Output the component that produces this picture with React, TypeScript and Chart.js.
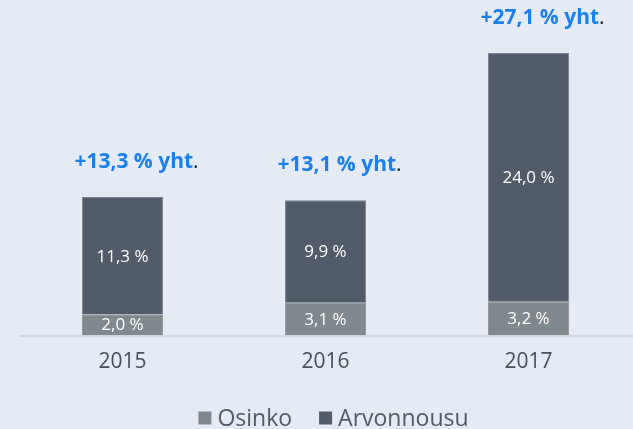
import React, { useEffect, useRef } from "react";
import { Chart, registerables } from "chart.js";

Chart.register(...registerables);

const categories = ["2015", "2016", "2017"];
const osinko = [2.0, 3.1, 3.2];
const arvonnousu = [11.3, 9.9, 24.0];
const totals = ["+13,3 % yht", "+13,1 % yht", "+27,1 % yht"];

const BG = "#e4ebf5";
const FONT = "'Open Sans', Lato, sans-serif";
const COLORS = ["#7f898e", "#525b6a"];
const BORDERS = ["#8c9599", "#7a8290"];

const fmt = (v: number) => v.toFixed(1).replace(".", ",") + " %";

const labelsPlugin = {
  id: "customLabels",
  beforeDraw(chart: any) {
    const { ctx, width, height } = chart;
    ctx.save();
    ctx.fillStyle = BG;
    ctx.fillRect(0, 0, width, height);
    ctx.restore();
  },
  afterDatasetsDraw(chart: any) {
    const { ctx, chartArea } = chart;
    ctx.save();
    // baseline
    ctx.strokeStyle = "#d3d8de";
    ctx.lineWidth = 2;
    ctx.beginPath();
    ctx.moveTo(chartArea.left - 2, chartArea.bottom + 1);
    ctx.lineTo(chart.width, chartArea.bottom + 1);
    ctx.stroke();

    // values inside bars
    ctx.font = `17px ${FONT}`;
    ctx.fillStyle = "#ffffff";
    ctx.textAlign = "center";
    ctx.textBaseline = "middle";
    chart.data.datasets.forEach((ds: any, di: number) => {
      const meta = chart.getDatasetMeta(di);
      meta.data.forEach((bar: any, i: number) => {
        const y = (bar.y + bar.base) / 2;
        ctx.fillText(fmt(ds.data[i]), bar.x, y + 1);
      });
    });

    // totals above bars
    const topMeta = chart.getDatasetMeta(1);
    topMeta.data.forEach((bar: any, i: number) => {
      const boldFont = `bold 21px ${FONT}`;
      ctx.font = boldFont;
      const main = totals[i];
      const w1 = ctx.measureText(main).width;
      ctx.font = `21px ${FONT}`;
      const w2 = ctx.measureText(".").width;
      const total = w1 + w2;
      const cx = bar.x + 14;
      const startX = cx - total / 2;
      const y = bar.y - 35;
      ctx.textAlign = "left";
      ctx.textBaseline = "middle";
      ctx.font = boldFont;
      ctx.fillStyle = "#1a7ff0";
      ctx.fillText(main, startX, y);
      ctx.font = `21px ${FONT}`;
      ctx.fillStyle = "#222222";
      ctx.fillText(".", startX + w1, y);
    });

    // custom legend
    const legendFont = `23px ${FONT}`;
    ctx.font = legendFont;
    const box = 13;
    const gap = 6;
    const spacing = 27;
    const items = chart.data.datasets.map((ds: any) => ({
      label: ds.label,
      color: ds.backgroundColor,
      w: ctx.measureText(ds.label).width,
    }));
    const totalW =
      items.reduce((s: number, it: any) => s + box + gap + it.w, 0) +
      spacing * (items.length - 1);
    let x = (chartArea.left + chartArea.right) / 2 + 8 - totalW / 2;
    const ly = chartArea.bottom + 83;
    ctx.textAlign = "left";
    ctx.textBaseline = "middle";
    items.forEach((it: any) => {
      ctx.fillStyle = it.color;
      ctx.fillRect(x, ly - box / 2, box, box);
      x += box + gap;
      ctx.fillStyle = "#555a60";
      ctx.fillText(it.label, x, ly + 1);
      x += it.w + spacing;
    });
    ctx.restore();
  },
};

export default function App() {
  const ref = useRef<HTMLCanvasElement>(null);
  useEffect(() => {
    document.body.style.margin = "0";
    document.body.style.background = BG;
    if (!ref.current) return;
    const chart = new Chart(ref.current, {
      type: "bar",
      data: {
        labels: categories,
        datasets: [
          {
            label: "Osinko",
            data: osinko,
            backgroundColor: COLORS[0],
            borderColor: BORDERS[0],
            borderWidth: 1,
            barPercentage: 0.4,
            categoryPercentage: 1,
          },
          {
            label: "Arvonnousu",
            data: arvonnousu,
            backgroundColor: COLORS[1],
            borderColor: BORDERS[1],
            borderWidth: 1,
            barPercentage: 0.4,
            categoryPercentage: 1,
          },
        ],
      },
      options: {
        responsive: false,
        animation: false,
        layout: { padding: { top: 24, left: 21, right: 3, bottom: 26 } },
        plugins: {
          legend: { display: false },
          tooltip: { enabled: false },
        },
        scales: {
          x: {
            stacked: true,
            grid: { display: false, drawTicks: false },
            border: { display: false },
            afterFit: (scale: any) => {
              scale.height = 68;
            },
            ticks: {
              font: { family: FONT, size: 21 },
              color: "#4a4f55",
              padding: 14,
            },
          },
          y: {
            stacked: true,
            display: false,
            min: 0,
            max: 30,
          },
        },
      },
      plugins: [labelsPlugin],
    });
    return () => chart.destroy();
  }, []);
  return <canvas ref={ref} width={633} height={429} style={{ display: "block" }} />;
}
